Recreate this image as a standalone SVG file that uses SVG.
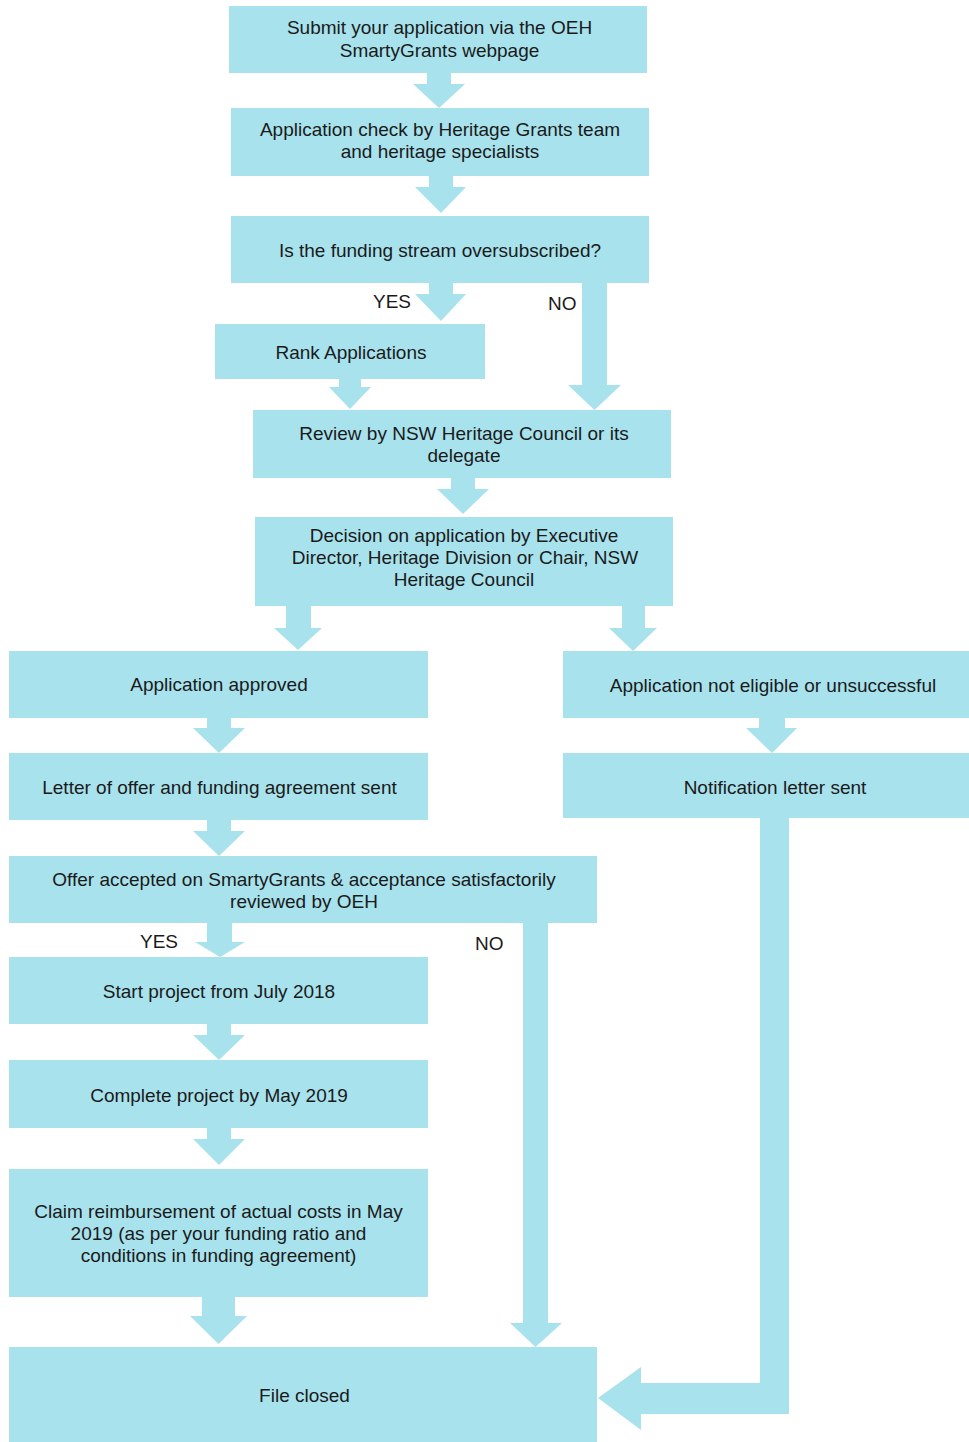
<svg xmlns="http://www.w3.org/2000/svg" width="969" height="1442" viewBox="0 0 969 1442">
<style>
.box{fill:#A8E2ED}
.conn polygon{fill:#A8E2ED}
text{font-family:"Liberation Sans",Arial,sans-serif;font-size:19px;fill:#1a1a1a;text-anchor:middle}
.lbl{text-anchor:start}
</style>
<rect width="969" height="1442" fill="#ffffff"/>
<g id="connectors" class="conn">
<polygon points="427,73 451,73 451,84 465,84 439,108 413,84 427,84"/>
<polygon points="429,176 453,176 453,187 466,187 441,213 415,187 429,187"/>
<polygon points="429,283 453,283 453,294 466,294 441,321 415,294 429,294"/>
<polygon points="339,379 361,379 361,387 371,387 350,409 329,387 339,387"/>
<polygon points="582,283 607,283 607,385 621,385 594.5,410 568,385 582,385"/>
<polygon points="451,478 475,478 475,489 489,489 463,514 437,489 451,489"/>
<polygon points="286,606 311,606 311,628 322,628 298,650 274,628 286,628"/>
<polygon points="622,606 645,606 645,628 657,628 633,651 609,628 622,628"/>
<polygon points="207,718 231,718 231,728 245,728 219,753 193,728 207,728"/>
<polygon points="207,820 231,820 231,831 245,831 219,856 193,831 207,831"/>
<polygon points="759,718 785,718 785,728 797,728 772,753 746,728 759,728"/>
<polygon points="207,923 232,923 232,942 245,942 220,957 195,942 207,942"/>
<polygon points="207,1024 231,1024 231,1035 245,1035 219,1060 193,1035 207,1035"/>
<polygon points="207,1128 231,1128 231,1139 245,1139 219,1165 193,1139 207,1139"/>
<polygon points="202,1297 235,1297 235,1316 247,1316 218.5,1344 190,1316 202,1316"/>
<polygon points="523,923 548,923 548,1323 562,1323 535.5,1347 510,1323 523,1323"/>
<polygon points="760,818 789,818 789,1414 641,1414 641,1430 598,1398 641,1367 641,1383 760,1383"/>
</g>
<g id="n-submit"><rect class="box" x="229" y="6" width="418" height="67"/><text x="439.5" y="34">Submit your application via the OEH</text><text x="439.5" y="57">SmartyGrants webpage</text></g>
<g id="n-check"><rect class="box" x="231" y="108" width="418" height="68"/><text x="440" y="136">Application check by Heritage Grants team</text><text x="440" y="158">and heritage specialists</text></g>
<g id="n-oversub"><rect class="box" x="231" y="216" width="418" height="67"/><text x="440" y="257">Is the funding stream oversubscribed?</text></g>
<g id="l-yes1"><text class="lbl" x="373" y="308">YES</text></g>
<g id="l-no1"><text class="lbl" x="548" y="310">NO</text></g>
<g id="n-rank"><rect class="box" x="215" y="324" width="270" height="55"/><text x="351" y="359">Rank Applications</text></g>
<g id="n-review"><rect class="box" x="253" y="410" width="418" height="68"/><text x="464" y="440">Review by NSW Heritage Council or its</text><text x="464" y="462">delegate</text></g>
<g id="n-decision"><rect class="box" x="255" y="517" width="418" height="89"/><text x="464" y="542">Decision on application by Executive</text><text x="465" y="564">Director, Heritage Division or Chair, NSW</text><text x="464" y="586">Heritage Council</text></g>
<g id="n-approved"><rect class="box" x="9" y="651" width="419" height="67"/><text x="219" y="691">Application approved</text></g>
<g id="n-noteligible"><rect class="box" x="563" y="651" width="406" height="67"/><text x="773" y="692">Application not eligible or unsuccessful</text></g>
<g id="n-letter"><rect class="box" x="9" y="753" width="419" height="67"/><text x="219.5" y="794">Letter of offer and funding agreement sent</text></g>
<g id="n-notification"><rect class="box" x="563" y="753" width="406" height="65"/><text x="775" y="794">Notification letter sent</text></g>
<g id="n-offer"><rect class="box" x="9" y="856" width="588" height="67"/><text x="304" y="886">Offer accepted on SmartyGrants &amp; acceptance satisfactorily</text><text x="304" y="908">reviewed by OEH</text></g>
<g id="l-yes2"><text class="lbl" x="140" y="948">YES</text></g>
<g id="l-no2"><text class="lbl" x="475" y="950">NO</text></g>
<g id="n-start"><rect class="box" x="9" y="957" width="419" height="67"/><text x="219" y="998">Start project from July 2018</text></g>
<g id="n-complete"><rect class="box" x="9" y="1060" width="419" height="68"/><text x="219" y="1102">Complete project by May 2019</text></g>
<g id="n-claim"><rect class="box" x="9" y="1169" width="419" height="128"/><text x="218.5" y="1218">Claim reimbursement of actual costs in May</text><text x="218.5" y="1240">2019 (as per your funding ratio and</text><text x="218.5" y="1262">conditions in funding agreement)</text></g>
<g id="n-closed"><rect class="box" x="9" y="1347" width="588" height="95"/><text x="304.5" y="1402">File closed</text></g>
</svg>
